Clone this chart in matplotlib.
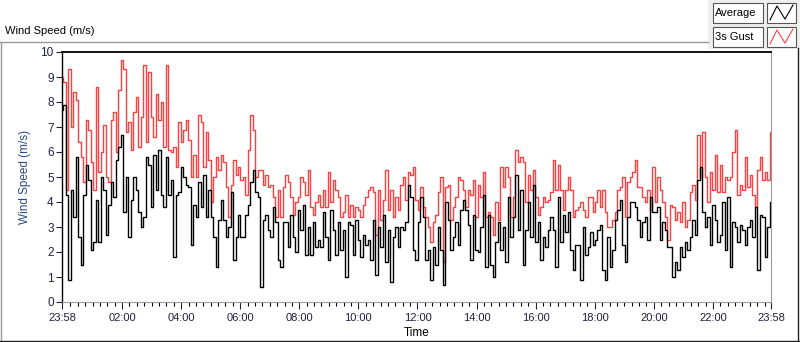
import numpy as np
import matplotlib.pyplot as plt
from matplotlib.patches import Rectangle
from matplotlib.lines import Line2D

plt.rcParams['font.family'] = ['Liberation Sans', 'DejaVu Sans']

# 3s gust (red) in 7 chunks
gust = [
    9.0, 8.8, 4.5, 9.3, 7.0, 8.4, 8.1, 6.4, 5.8, 4.8, 7.3, 6.9, 5.6, 4.5, 8.6, 5.2, 6.0, 7.1, 5.0, 4.8,
    7.3, 7.6, 6.0, 8.5, 9.7, 9.3, 6.8, 7.2, 6.1, 7.6, 8.2, 6.2, 7.4, 9.5, 6.4, 9.2, 7.4, 6.6, 8.3, 7.3, 8.0,
    6.2, 9.5, 6.1, 6.0, 6.2, 5.4, 7.2, 6.4, 6.9, 7.3, 6.5, 5.0, 5.9, 5.0, 7.5, 7.2, 5.4, 6.8, 5.7, 4.0,
    5.0, 5.8, 5.3, 5.9, 5.6, 4.6, 3.4, 4.7, 5.7, 5.1, 5.4, 4.9, 5.0, 4.3, 6.1, 7.5, 6.9, 5.0, 5.3, 5.3, 4.7,
    5.1, 4.6, 4.7, 4.2, 3.4, 4.5, 3.4, 4.6, 5.1, 4.8, 4.2, 3.5, 4.0, 4.2, 5.0, 4.8, 4.3, 5.3, 3.8, 3.5,
    4.0, 4.3, 3.8, 4.5, 3.8, 5.2, 4.0, 4.9, 4.5, 4.2, 3.4, 3.6, 4.3, 3.4, 3.9, 3.4, 3.8, 3.7, 3.4, 3.9, 4.2,
    4.5, 4.6, 4.4, 2.7, 4.5, 3.3, 4.1, 5.3, 3.7, 4.5, 3.4, 4.2, 3.7, 4.7, 5.0, 4.1, 5.2, 5.1, 5.4, 4.1,
    3.7, 4.6, 3.8, 3.4, 3.0, 2.4, 3.2, 3.5, 4.4, 5.0, 1.6, 4.6, 4.7, 3.3, 3.8, 4.2, 5.0, 4.9, 4.5, 3.8, 4.5,
    4.3, 4.9, 3.4, 4.7, 4.2, 5.2, 3.4, 3.6, 3.4, 2.7, 4.0, 3.3, 5.4, 4.6, 5.4, 5.0, 3.4, 4.2, 6.1, 5.6,
    5.8, 5.6, 4.0, 5.1, 4.5, 5.3, 4.2, 3.5, 3.8, 4.2, 4.0, 4.1, 4.4, 5.7, 4.5, 5.5, 4.5, 3.7, 4.5, 5.0, 4.5,
    3.4, 3.7, 3.8, 4.0, 3.7, 3.4, 4.2, 4.2, 3.6, 4.0, 4.5, 3.8, 4.5, 3.6, 3.0, 3.0, 3.3, 3.6, 4.5, 4.6,
    5.0, 3.4, 4.8, 5.0, 5.2, 5.7, 4.6, 4.6, 4.2, 4.0, 4.5, 3.7, 5.4, 4.0, 5.0, 4.5, 4.0, 3.4, 2.5, 3.9, 3.8,
    3.3, 3.6, 3.2, 4.0, 3.0, 3.3, 4.4, 4.7, 4.1, 6.7, 5.0, 6.8, 5.0, 4.0, 5.2, 4.5, 5.9, 4.4, 5.5, 4.4,
    5.0, 4.9, 5.0, 6.0, 6.9, 4.3, 4.7, 4.5, 5.8, 4.6, 5.1, 4.3, 3.8, 5.3, 5.8, 4.9, 5.2, 4.9, 6.8,
]

# average (black)
average = [
    7.7, 7.9, 4.3, 0.9, 4.5, 3.4, 5.8, 2.6, 1.5, 4.3, 5.5, 4.9, 2.1, 2.4, 4.1, 2.4, 5.0, 4.5, 2.7, 3.9,
    4.8, 4.2, 5.7, 6.2, 6.7, 3.6, 5.0, 2.6, 4.1, 5.0, 4.5, 3.6, 3.0, 3.4, 5.8, 5.5, 3.8, 5.9, 4.5, 6.1, 4.3,
    3.8, 5.8, 4.3, 4.9, 1.8, 4.3, 4.4, 5.4, 5.0, 4.7, 4.6, 2.3, 3.9, 3.4, 4.8, 3.8, 5.1, 3.4, 4.5, 3.4,
    2.6, 1.4, 3.3, 4.1, 3.3, 2.6, 3.0, 4.4, 1.7, 2.6, 3.5, 2.6, 2.6, 3.5, 3.9, 4.8, 5.3, 4.4, 4.2, 0.6, 3.3,
    3.5, 2.9, 2.6, 3.8, 3.2, 1.7, 1.4, 3.2, 3.2, 2.2, 3.5, 2.6, 2.0, 3.7, 2.9, 3.9, 1.9, 3.0, 1.9, 3.2,
    2.2, 2.5, 2.2, 3.6, 2.6, 1.7, 3.7, 2.9, 1.9, 3.2, 2.1, 2.9, 1.0, 3.2, 3.1, 1.9, 3.3, 2.5, 1.8, 2.7, 2.3,
    2.5, 1.7, 3.3, 1.1, 3.0, 2.2, 3.5, 1.6, 2.9, 0.8, 2.6, 3.0, 2.2, 3.0, 2.9, 3.2, 4.7, 4.2, 2.1, 1.7,
    3.2, 4.2, 3.4, 1.7, 2.1, 0.9, 2.2, 1.5, 3.0, 2.1, 0.7, 4.0, 3.3, 2.1, 2.6, 3.2, 2.3, 3.7, 4.1, 3.7, 3.1,
    1.7, 3.5, 2.1, 2.0, 3.0, 4.3, 1.4, 3.5, 1.5, 1.0, 2.4, 3.2, 2.1, 3.0, 1.6, 4.2, 2.6, 3.4, 5.1, 2.9,
    4.5, 1.5, 2.9, 4.0, 2.6, 4.7, 2.4, 3.2, 1.7, 2.6, 2.2, 2.9, 3.4, 2.9, 1.4, 4.2, 2.4, 3.5, 2.8, 3.6, 2.1,
    1.3, 2.3, 2.3, 0.9, 3.0, 1.9, 2.2, 2.8, 2.3, 2.5, 2.9, 3.1, 1.3, 0.9, 2.6, 1.4, 2.1, 3.3, 3.7, 4.1,
    2.3, 1.6, 3.4, 4.0, 4.0, 3.8, 3.3, 2.6, 3.2, 3.4, 2.5, 4.2, 3.6, 3.6, 3.8, 2.5, 3.2, 2.9, 2.2, 2.2, 1.0,
    1.6, 1.3, 2.2, 1.8, 2.4, 2.1, 2.6, 3.3, 2.7, 4.9, 5.4, 3.6, 3.0, 3.4, 2.3, 3.9, 3.3, 2.4, 2.7, 4.0,
    2.1, 4.2, 1.4, 3.2, 3.0, 2.4, 3.1, 2.9, 2.3, 3.0, 3.3, 2.6, 3.8, 1.3, 3.5, 3.4, 1.8, 3.0, 4.0,
]

# time axis: hours after midnight, from 23:58 the day before to 23:58
t_start = -2 / 60
t_end = 24 - 2 / 60
t = np.linspace(t_start, t_end, len(gust))

tick_pos = [t_start] + list(range(2, 23, 2)) + [t_end]
tick_labels = ['23:58'] + ['%02d:00' % h for h in range(2, 23, 2)] + ['23:58']

W, H = 800, 342
fig = plt.figure(figsize=(W / 100, H / 100), dpi=100)


def fx(x):
    return x / W


def fy(y):
    return 1 - y / H


# outer panel frame
fig.add_artist(Line2D([fx(0), fx(708)], [fy(42), fy(42)], color='#9a9a9a', lw=1))
fig.add_artist(Line2D([fx(0.5), fx(0.5)], [fy(42), fy(342)], color='#9a9a9a', lw=1))
fig.add_artist(Line2D([fx(0), fx(799)], [fy(341), fy(341)], color='#202020', lw=1))
fig.add_artist(Line2D([fx(798), fx(798)], [fy(48), fy(342)], color='#202020', lw=1))

fig.text(fx(5), fy(31), 'Wind Speed (m/s)', fontsize=8, va='center', ha='left')

ax = fig.add_axes([fx(62), fy(302), fx(771) - fx(62), fy(52) - fy(302)])
ax.plot(t, gust, color='#ff4040', lw=1.0, drawstyle='steps-mid')
ax.plot(t, average, color='black', lw=1.0, drawstyle='steps-mid')

ax.set_xlim(t_start, t_end)
ax.set_ylim(0, 10)
ax.set_yticks(range(0, 11))
ax.set_xticks(tick_pos)
ax.set_xticklabels(tick_labels)
ax.set_xticks([m / 4 for m in range(1, 96) if m % 8 != 0], minor=True)
ax.tick_params(axis='both', labelsize=8, colors='#202040', direction='out')
ax.tick_params(axis='y', labelsize=8.5)
ax.tick_params(axis='x', which='major', length=5, width=0.8, pad=3)
ax.tick_params(axis='x', which='minor', length=3, width=0.8)
ax.tick_params(axis='y', length=4, width=0.8, pad=2)

ax.spines['top'].set_color('black')
ax.spines['left'].set_color('black')
ax.spines['top'].set_linewidth(1.3)
ax.spines['left'].set_linewidth(1.0)
ax.spines['bottom'].set_color('#9a9a9a')
ax.spines['right'].set_color('#9a9a9a')

ax.set_ylabel('Wind Speed (m/s)', fontsize=8.5, color='#2a4a8a', labelpad=7)
ax.set_xlabel('Time', fontsize=8.5, labelpad=3)

# legend panel, drawn by hand like the LabVIEW plot legend
fig.add_artist(Rectangle((fx(708), fy(49)), fx(800) - fx(708), fy(0) - fy(49),
                         transform=fig.transFigure, facecolor='#efefef', edgecolor='none'))
legend_rows = [('Average', 'black', 3), ('3s Gust', '#ff4040', 27)]
for name, col, y0 in legend_rows:
    fig.add_artist(Rectangle((fx(713), fy(y0 + 20)), fx(50), 20 / H,
                             transform=fig.transFigure, facecolor='white',
                             edgecolor='#555555', lw=0.8))
    fig.text(fx(715), fy(y0 + 10), name, fontsize=8, va='center', ha='left')
    fig.add_artist(Rectangle((fx(767), fy(y0 + 20)), fx(29), 20 / H,
                             transform=fig.transFigure, facecolor='white',
                             edgecolor='#555555', lw=0.8))
    zx = [770, 777, 785, 793]
    zy = [y0 + 17, y0 + 3, y0 + 16, y0 + 2]
    fig.add_artist(Line2D([fx(v) for v in zx], [fy(v) for v in zy], color=col, lw=0.8))

fig.savefig('out.png', dpi=100)
